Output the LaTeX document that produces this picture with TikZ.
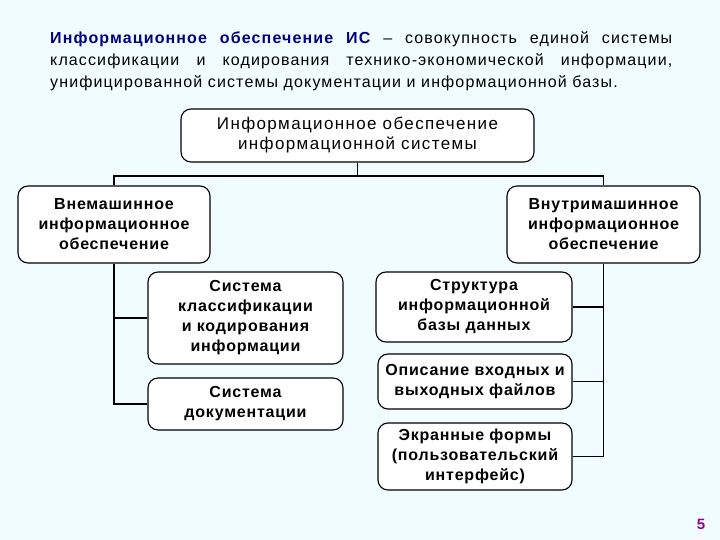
\documentclass[tikz,border=0pt]{standalone}
\usepackage{fontspec}
\setmainfont{Liberation Sans}
\newfontfamily\titlef[LetterSpace=7]{Liberation Sans}
\newfontfamily\boxf[LetterSpace=5]{Liberation Sans}
\newfontfamily\topf[LetterSpace=8]{Liberation Sans}
\definecolor{bgc}{RGB}{240,252,255}
\definecolor{navyc}{RGB}{0,0,128}
\definecolor{pagec}{RGB}{153,0,153}
\begin{document}
\begin{tikzpicture}[x=1pt,y=-1pt,
  box/.style={draw=black, line width=1.1pt, fill=white, rounded corners=10pt,
    align=center, inner sep=1pt, font=\boxf\fontsize{16}{20}\selectfont\bfseries},
  conn/.style={line width=1.6pt, black}]
\useasboundingbox (0,0) rectangle (720,540);
\fill[bgc] (0,0) rectangle (720,540);

\node[anchor=north west, text width=622pt, align=justify, inner sep=0pt,
  font=\titlef\fontsize{16}{22}\selectfont] (title) at (50,31)
  {{\bfseries\color{navyc}Информационное обеспечение ИС} – совокупность единой системы\linebreak
   классификации и кодирования технико-экономической информации,\linebreak
   унифицированной системы документации и информационной базы.};

\node[box, minimum width=353pt, minimum height=53pt,
  font=\topf\fontsize{17}{20}\selectfont] (top) at (357.5,135.5)
  {Информационное обеспечение\\информационной системы};
\node[box, minimum width=192pt, minimum height=77pt] (L) at (114,224.5)
  {Внемашинное\\информационное\\обеспечение};
\node[box, minimum width=193pt, minimum height=77pt] (R) at (603.5,224.5)
  {Внутримашинное\\информационное\\обеспечение};
\node[box, minimum width=195pt, minimum height=92pt] (L1) at (245.5,318)
  {Система\\классификации\\и кодирования\\информации};
\node[box, minimum width=195pt, minimum height=52pt] (L2) at (245.5,404)
  {Система\\документации};
\node[box, minimum width=196pt, minimum height=70pt] (R1) at (474,307)
  {Структура\\информационной\\базы данных};
\node[box, minimum width=194pt, minimum height=55pt] (R2) at (475,381.5)
  {Описание входных и\\выходных файлов};
\node[box, minimum width=194pt, minimum height=67pt] (R3) at (475,456.5)
  {Экранные формы\\(пользовательский\\интерфейс)};

\coordinate (j) at (357.5,176);
\draw[conn] (top.south) -- (j);
\draw[conn] (L.north) |- (j) -| (R.north);
\draw[conn] (L.south) |- (L2.west);
\draw[conn] (L1.west) -- (L1.west -| L.south);
\draw[conn] (R.south) |- (R3.east);
\draw[conn] (R1.east) -- (R1.east -| R.south);
\draw[conn] (R2.east) -- (R2.east -| R.south);

\node[text=pagec, font=\fontsize{15}{18}\selectfont\bfseries] (pg) at (701,524) {5};
\end{tikzpicture}
\end{document}
